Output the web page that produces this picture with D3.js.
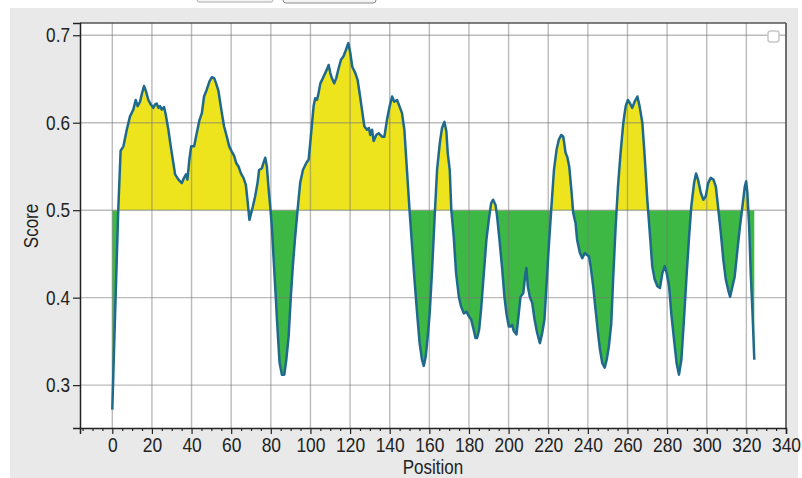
<!DOCTYPE html>
<html>
<head>
<meta charset="utf-8">
<script src="https://cdn.jsdelivr.net/npm/d3@7"></script>
<style>
  html, body { margin: 0; padding: 0; background: #ffffff; }
  svg { display: block; font-family: "Liberation Sans", Arial, sans-serif; }
</style>
</head>
<body>
<svg id="chart" width="802" height="478"></svg>
<script>
// ---- data ----
const positions = [0,1,2,3,4.2,5.6,7.3,8.9,10.6,11.8,12.8,14.0,14.8,16.0,17.0,18.2,19.4,20.7,21.6,22.4,23.3,24.1,24.9,26.1,27.0,28.3,29.5,30.8,31.7,33.4,35.1,36.2,37.2,37.9,38.9,39.8,41.3,42.6,44.0,45.2,46.3,47.7,49.0,50.2,51.4,52.4,53.6,54.4,55.3,56.4,57.8,59.0,60.3,61.5,62.5,63.7,64.9,66.2,67.4,68.2,69.2,69.9,70.9,72.1,73.3,74.1,75.5,76.3,77.2,78.0,78.8,79.7,80.5,81.4,82.2,83.1,84.4,85.6,86.8,87.8,89.0,90.1,91.1,92.3,93.5,94.8,96.2,97.9,99.1,100.2,101.6,102.4,103.3,104.1,105.0,106.3,107.5,108.3,109.2,110.0,110.8,112.0,113.0,114.2,115.4,116.7,117.7,119.1,120.1,121.1,122.6,123.8,124.8,126.0,127.2,128.5,129.5,130.2,131.1,131.9,133.2,134.4,136.1,137.3,138.6,140.0,141.2,142.3,143.7,144.9,146.2,147.4,148.7,150.1,151.3,152.5,153.8,155.1,156.3,157.2,158.2,159.2,160.2,161.4,162.6,163.9,165.3,166.4,167.6,168.6,169.3,170.3,171.1,172.3,173.5,174.9,176.0,177.4,178.7,179.9,181.1,182.4,183.3,184.1,185.1,186.1,187.5,188.8,190.0,191.2,192.2,193.4,194.2,195.4,196.8,197.9,198.9,200.1,200.9,201.8,202.6,204.0,204.8,206.0,207.4,208.5,209.0,209.7,210.7,211.9,213.1,214.4,215.8,217.0,218.1,219.2,220.3,221.5,222.9,224.2,225.4,226.6,227.6,228.8,229.6,230.6,231.8,232.6,233.8,234.6,236.0,237.2,238.4,239.4,240.6,241.4,242.7,243.9,245.1,246.1,247.3,248.5,249.5,250.6,251.8,252.8,254.0,255.2,256.5,257.9,259.1,260.2,261.3,262.4,263.6,265.0,266.1,267.5,268.7,270.0,271.4,272.5,273.7,275.1,276.4,277.6,278.8,279.8,281.0,282.1,283.5,284.8,286.0,287.2,288.5,289.9,291.1,292.2,293.6,294.6,295.6,297.0,298.3,299.5,300.7,302.0,303.4,304.6,305.7,307.1,308.4,309.6,310.8,311.8,313.0,314.1,315.5,316.8,318.0,319.2,319.9,320.5,321.4,322.2,323.1,324.0];
const scores = [0.272,0.35,0.425,0.50,0.568,0.573,0.592,0.607,0.615,0.626,0.619,0.624,0.632,0.642,0.636,0.626,0.621,0.617,0.621,0.622,0.617,0.619,0.615,0.618,0.609,0.592,0.573,0.554,0.541,0.535,0.531,0.537,0.541,0.535,0.558,0.573,0.573,0.588,0.603,0.611,0.630,0.638,0.647,0.652,0.651,0.645,0.636,0.624,0.611,0.596,0.584,0.573,0.567,0.562,0.554,0.550,0.542,0.537,0.529,0.512,0.489,0.495,0.504,0.516,0.531,0.546,0.548,0.554,0.560,0.550,0.527,0.504,0.482,0.445,0.413,0.375,0.326,0.312,0.312,0.329,0.356,0.401,0.436,0.470,0.5,0.531,0.546,0.554,0.558,0.584,0.619,0.628,0.626,0.634,0.645,0.651,0.657,0.661,0.666,0.657,0.651,0.645,0.651,0.662,0.672,0.676,0.682,0.691,0.680,0.664,0.657,0.649,0.634,0.615,0.596,0.592,0.594,0.586,0.592,0.579,0.586,0.588,0.584,0.584,0.603,0.619,0.630,0.624,0.626,0.619,0.611,0.592,0.546,0.497,0.459,0.421,0.383,0.348,0.329,0.322,0.333,0.356,0.383,0.432,0.489,0.546,0.577,0.594,0.601,0.590,0.565,0.546,0.5,0.470,0.428,0.401,0.390,0.382,0.384,0.379,0.375,0.363,0.354,0.354,0.363,0.386,0.428,0.466,0.489,0.508,0.512,0.506,0.493,0.466,0.432,0.401,0.382,0.367,0.367,0.369,0.362,0.358,0.375,0.401,0.405,0.428,0.434,0.413,0.401,0.394,0.375,0.360,0.348,0.360,0.375,0.417,0.459,0.5,0.546,0.569,0.581,0.586,0.584,0.565,0.561,0.550,0.520,0.497,0.485,0.466,0.451,0.445,0.451,0.449,0.447,0.436,0.413,0.386,0.360,0.341,0.325,0.320,0.329,0.344,0.370,0.423,0.480,0.527,0.565,0.600,0.619,0.626,0.622,0.617,0.624,0.630,0.619,0.600,0.561,0.512,0.470,0.436,0.421,0.413,0.411,0.428,0.436,0.428,0.413,0.382,0.352,0.325,0.312,0.329,0.375,0.428,0.470,0.504,0.531,0.542,0.535,0.520,0.512,0.516,0.531,0.537,0.535,0.527,0.504,0.474,0.443,0.421,0.409,0.401,0.413,0.424,0.455,0.482,0.504,0.527,0.533,0.520,0.482,0.428,0.383,0.329];
const threshold = 0.5;
const xTicks = [0,20,40,60,80,100,120,140,160,180,200,220,240,260,280,300,320,340];
const yTicks = [0.3,0.4,0.5,0.6,0.7];
const xLabel = "Position";
const yLabel = "Score";

// ---- layout ----
const svg = d3.select("#chart");
const L = 80, T = 23, R = 786, B = 428;
const FONT = "'Liberation Sans', Arial, sans-serif";

// outer gray panel and toolbar buttons
svg.append("rect").attr("x", 10).attr("y", 8).attr("width", 788).attr("height", 470).attr("fill", "#e8e9e8");
svg.append("rect").attr("x", 197).attr("y", -10).attr("width", 76).attr("height", 12).attr("rx", 2)
  .attr("fill", "#f4f4f4").attr("stroke", "#aaa");
svg.append("rect").attr("x", 283).attr("y", -10).attr("width", 93).attr("height", 13).attr("rx", 3)
  .attr("fill", "#f4f4f4").attr("stroke", "#888");

svg.append("rect").attr("x", L).attr("y", T).attr("width", R - L).attr("height", B - T).attr("fill", "#ffffff");

const x = d3.scaleLinear().domain([-16.3, 340]).range([L, R]);
const y = d3.scaleLinear().domain([0.251, 0.714]).range([B, T]);

const data = positions.map((p, i) => ({ p, s: scores[i] }));

// clip paths above/below threshold
const defs = svg.append("defs");
defs.append("clipPath").attr("id", "above").append("rect")
  .attr("x", L).attr("y", T).attr("width", R - L).attr("height", y(threshold) - T);
defs.append("clipPath").attr("id", "below").append("rect")
  .attr("x", L).attr("y", y(threshold)).attr("width", R - L).attr("height", B - y(threshold));

const area = d3.area().x(d => x(d.p)).y0(y(threshold)).y1(d => y(d.s));
svg.append("path").datum(data).attr("d", area).attr("fill", "#eee41e").attr("clip-path", "url(#above)");
svg.append("path").datum(data).attr("d", area).attr("fill", "#3db845").attr("clip-path", "url(#below)");

// grid
const grid = svg.append("g").attr("stroke", "rgba(120,120,120,0.5)").attr("stroke-width", 1.4);
xTicks.forEach(t => grid.append("line").attr("x1", x(t)).attr("x2", x(t)).attr("y1", T).attr("y2", B));
yTicks.forEach(t => grid.append("line").attr("x1", L).attr("x2", R).attr("y1", y(t)).attr("y2", y(t)));

// line
const line = d3.line().x(d => x(d.p)).y(d => y(d.s));
svg.append("path").datum(data).attr("d", line).attr("fill", "none")
  .attr("stroke", "#1f6a8c").attr("stroke-width", 2.5).attr("stroke-linejoin", "round");

// frame top/right
svg.append("line").attr("x1", L).attr("x2", R).attr("y1", T).attr("y2", T).attr("stroke", "#555").attr("stroke-width", 1.5);
svg.append("line").attr("x1", R).attr("x2", R).attr("y1", T).attr("y2", B).attr("stroke", "#555").attr("stroke-width", 1.5);

// legend placeholder box
svg.append("rect").attr("x", 768).attr("y", 31).attr("width", 11).attr("height", 11).attr("rx", 2.5)
  .attr("fill", "#fff").attr("stroke", "#c8c8c8").attr("stroke-width", 1.5);

// axes
const xMinor = d3.range(-15, 341, 5).filter(v => v % 20 !== 0);
const xAxisMinor = d3.axisBottom(x).tickValues(xMinor).tickSize(3).tickFormat("");
svg.append("g").attr("transform", `translate(0,${B})`).call(xAxisMinor)
  .call(g => g.select(".domain").remove())
  .call(g => g.selectAll("line").attr("stroke", "#222").attr("stroke-width", 1.2));

const xAxis = d3.axisBottom(x).tickValues(xTicks).tickSize(6).tickPadding(3).tickFormat(d3.format("d"));
svg.append("g").attr("transform", `translate(0,${B})`).call(xAxis)
  .call(g => g.select(".domain").attr("stroke", "#222").attr("stroke-width", 1.5))
  .call(g => g.selectAll("line").attr("stroke", "#222").attr("stroke-width", 1.2))
  .call(g => g.selectAll("text").attr("font-size", 21).attr("fill", "#222")
    .attr("font-family", FONT).attr("transform", "scale(0.83,1)"));

const yAxis = d3.axisLeft(y).tickValues(yTicks).tickSize(7).tickPadding(3).tickFormat(d3.format(".1f"));
svg.append("g").attr("transform", `translate(${L},0)`).call(yAxis)
  .call(g => g.select(".domain").attr("stroke", "#222").attr("stroke-width", 1.5))
  .call(g => g.selectAll("line").attr("stroke", "#222").attr("stroke-width", 1.2))
  .call(g => g.selectAll("text").attr("font-size", 20).attr("fill", "#222")
    .attr("font-family", FONT).attr("transform", "translate(-10,0) scale(0.86,1) translate(10,0)"));

// labels
svg.append("text").attr("transform", `translate(${(L + R) / 2},474) scale(0.85,1)`).attr("text-anchor", "middle")
  .attr("font-size", 20).attr("fill", "#222").text(xLabel);
svg.append("text").attr("transform", "translate(38,226) rotate(-90) scale(0.85,1)").attr("text-anchor", "middle")
  .attr("font-size", 20).attr("fill", "#222").text(yLabel);
</script>
</body>
</html>
